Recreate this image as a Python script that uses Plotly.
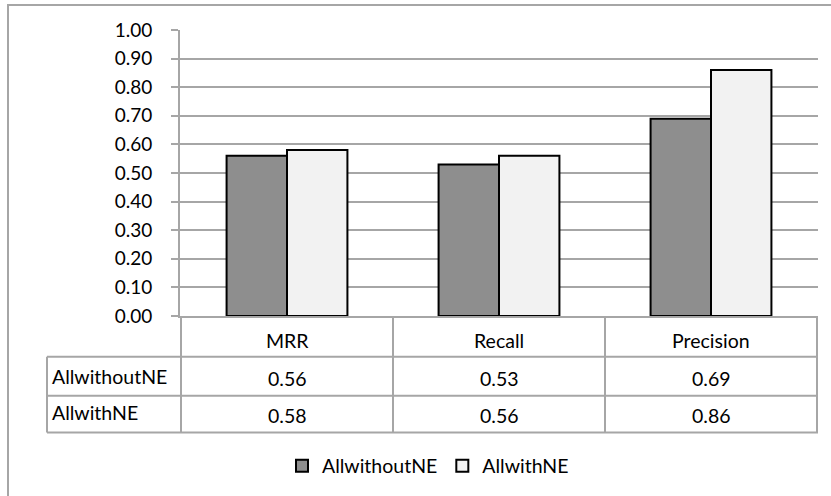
import plotly.graph_objects as go

categories = ["MRR", "Recall", "Precision"]
series_names = ["AllwithoutNE", "AllwithNE"]
without_ne = [0.56, 0.53, 0.69]
with_ne = [0.58, 0.56, 0.86]
y_ticks = [0.0, 0.1, 0.2, 0.3, 0.4, 0.5, 0.6, 0.7, 0.8, 0.9, 1.0]
y_tick_labels = ["%.2f" % v for v in y_ticks]

W, H = 831, 496
L, R, T, B = 180, 13, 30, 179
PW = W - L - R
PH = H - T - B
FONT = "Lato"
FS = 19.5
GRID = "#a6a6a6"


def px_x(p):
    return (p - L) / PW


def px_y(p):
    return (H - B - p) / PH


fig = go.Figure()
fig.add_bar(x=categories, y=without_ne, name=series_names[0],
            marker=dict(color="#8e8e8e", line=dict(color="black", width=2)))
fig.add_bar(x=categories, y=with_ne, name=series_names[1],
            marker=dict(color="#f2f2f2", line=dict(color="black", width=2)))

shapes = []
# outer chart border
shapes.append(dict(type="rect", xref="paper", yref="paper",
                   x0=px_x(8), x1=px_x(840), y0=px_y(5), y1=px_y(505),
                   line=dict(color=GRID, width=2), layer="below"))
row_lines = [358, 397, 434]
tbl_bottom = px_y(434)
# horizontal table lines
for yy in row_lines:
    shapes.append(dict(type="line", xref="paper", yref="paper",
                       x0=px_x(47), x1=1.0, y0=px_y(yy), y1=px_y(yy),
                       line=dict(color=GRID, width=2)))
# vertical table lines in category space
for k in range(len(categories) + 1):
    shapes.append(dict(type="line", xref="x", yref="paper",
                       x0=k - 0.5, x1=k - 0.5, y0=0, y1=tbl_bottom,
                       line=dict(color=GRID, width=2)))
# left border of series label column
shapes.append(dict(type="line", xref="paper", yref="paper",
                   x0=px_x(47), x1=px_x(47), y0=px_y(358), y1=tbl_bottom,
                   line=dict(color=GRID, width=2)))

txt_font = dict(family=FONT, size=FS, color="black")
annotations = []
for i, c in enumerate(categories):
    annotations.append(dict(x=i, y=px_y(342), xref="x", yref="paper", text=c,
                            xanchor="center", yanchor="middle",
                            showarrow=False, font=txt_font))
    annotations.append(dict(x=i, y=px_y(380), xref="x", yref="paper", text="%.2f" % without_ne[i],
                            xanchor="center", yanchor="middle",
                            showarrow=False, font=txt_font))
    annotations.append(dict(x=i, y=px_y(417), xref="x", yref="paper", text="%.2f" % with_ne[i],
                            xanchor="center", yanchor="middle",
                            showarrow=False, font=txt_font))
for name, yy in zip(series_names, [378, 414]):
    annotations.append(dict(x=px_x(50), y=px_y(yy), xref="paper", yref="paper", text=name,
                            xanchor="left", yanchor="middle", showarrow=False,
                            font=txt_font))

fig.update_layout(
    width=W, height=H,
    margin=dict(l=L, r=R, t=T, b=B),
    paper_bgcolor="white", plot_bgcolor="white",
    barmode="group", bargap=0.43, bargroupgap=0,
    font=dict(family=FONT, size=FS, color="black"),
    shapes=shapes, annotations=annotations,
    showlegend=True,
    legend=dict(orientation="h", x=px_x(428), xanchor="center", y=px_y(466), yanchor="middle",
                font=txt_font, traceorder="normal", itemwidth=30),
    xaxis=dict(showticklabels=False, showline=True, linecolor=GRID, linewidth=2,
               showgrid=False, ticks="", fixedrange=True),
    yaxis=dict(range=[0, 1], tickvals=y_ticks, ticktext=y_tick_labels,
               showgrid=True, gridcolor=GRID, gridwidth=2, zeroline=False,
               showline=True, linecolor=GRID, linewidth=2,
               ticks="outside", ticklen=7, tickcolor=GRID, tickwidth=2,
               ticklabelstandoff=15, tickfont=dict(family=FONT, size=19, color="black"),
               fixedrange=True),
)

fig.write_html("out.html")
